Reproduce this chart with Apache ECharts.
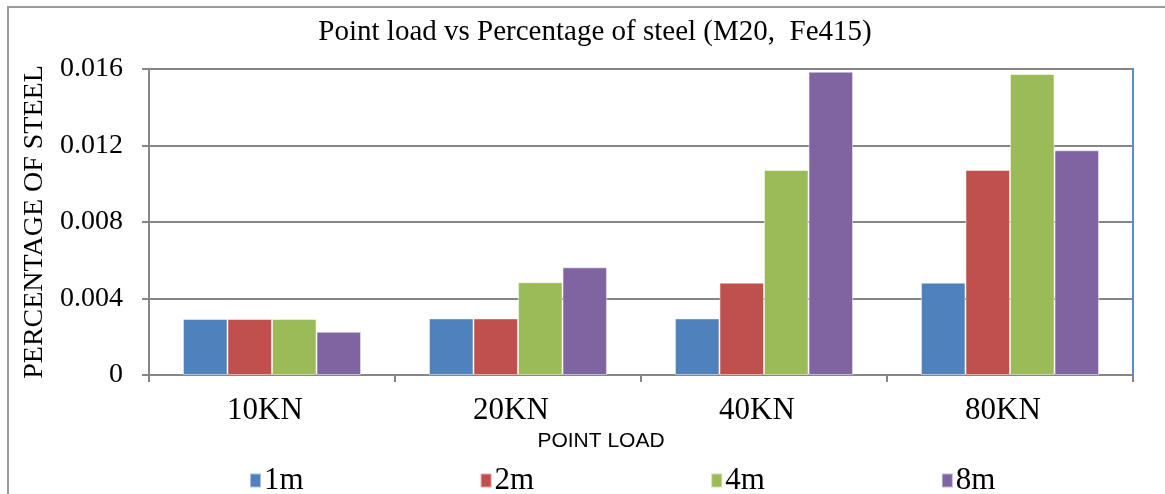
<!DOCTYPE html>
<html>
<head>
<meta charset="utf-8">
<script src="https://cdn.jsdelivr.net/npm/echarts@6/dist/echarts.min.js"></script>
<style>
html,body{margin:0;padding:0;background:#fff;}
#chart{width:1165px;height:494px;}
</style>
</head>
<body>
<div id="chart"></div>
<script>
const categories = ['10KN', '20KN', '40KN', '80KN'];
const seriesNames = ['1m', '2m', '4m', '8m'];
const s1m = [0.00293, 0.00296, 0.00296, 0.00483];
const s2m = [0.00293, 0.00296, 0.00483, 0.01072];
const s4m = [0.00293, 0.00485, 0.01072, 0.01574];
const s8m = [0.00226, 0.00563, 0.01586, 0.01175];
const yTicks = [0, 0.004, 0.008, 0.012, 0.016];
const colors = ['#4F81BD', '#C0504D', '#9BBB59', '#8064A2'];
const seriesData = [s1m, s2m, s4m, s8m];

const serif = '"Liberation Serif", "Times New Roman", serif';
const chart = echarts.init(document.getElementById('chart'));
chart.setOption({
  animation: false,
  title: {
    text: 'Point load vs Percentage of steel (M20,  Fe415)',
    left: 590, top: 13, textAlign: 'center',
    textStyle: {fontFamily: serif, fontSize: 29, fontWeight: 'normal', color: '#000'}
  },
  graphic: [{
    type: 'rect', shape: {x: 8, y: 7, width: 1300, height: 600},
    style: {fill: 'none', stroke: '#9a9a9a', lineWidth: 2}, silent: true, z: -1
  }],
  legend: {
    data: seriesNames,
    left: 244, top: 460,
    itemWidth: 11, itemHeight: 14, itemGap: 176,
    icon: 'rect',
    textStyle: {fontFamily: serif, fontSize: 31, color: '#000', padding: [0, 0, 0, -2]}
  },
  grid: {
    left: 149, right: 32, top: 69, bottom: 119,
    show: true, borderColor: '#5B8CCB', borderWidth: 2, backgroundColor: 'transparent'
  },
  xAxis: {
    type: 'category', data: categories,
    name: 'POINT LOAD', nameLocation: 'middle', nameGap: 50,
    nameTextStyle: {fontFamily: '"Liberation Sans", "Open Sans", sans-serif', fontSize: 21, color: '#000', padding: [0, 80, 0, 0]},
    axisLine: {lineStyle: {color: '#868686', width: 2}},
    axisTick: {show: true, alignWithLabel: false, length: 7, lineStyle: {color: '#868686', width: 2}},
    axisLabel: {fontFamily: serif, fontSize: 31, color: '#000', margin: 20, padding: [0, 14, 0, 0]}
  },
  yAxis: {
    type: 'value', min: 0, max: 0.016, interval: 0.004,
    name: 'PERCENTAGE OF STEEL', nameLocation: 'middle', nameGap: 98,
    nameTextStyle: {fontFamily: serif, fontSize: 28, color: '#000'},
    axisLine: {show: true, lineStyle: {color: '#868686', width: 2}},
    axisTick: {show: true, length: 7, lineStyle: {color: '#868686', width: 2}},
    splitLine: {lineStyle: {color: '#868686', width: 2}},
    axisLabel: {
      fontFamily: serif, fontSize: 28, color: '#000', margin: 26,
      formatter: v => { const t = yTicks.find(x => Math.abs(x - v) < 1e-9); return t === 0 ? '0' : (t !== undefined ? t.toFixed(3) : ''); }
    }
  },
  series: seriesData.map((d, i) => ({
    name: seriesNames[i], type: 'bar', data: d,
    barGap: '0%', barCategoryGap: '27.6%',
    itemStyle: {color: colors[i], borderColor: 'rgba(255,255,255,0.5)', borderWidth: 1}
  }))
});
</script>
</body>
</html>
